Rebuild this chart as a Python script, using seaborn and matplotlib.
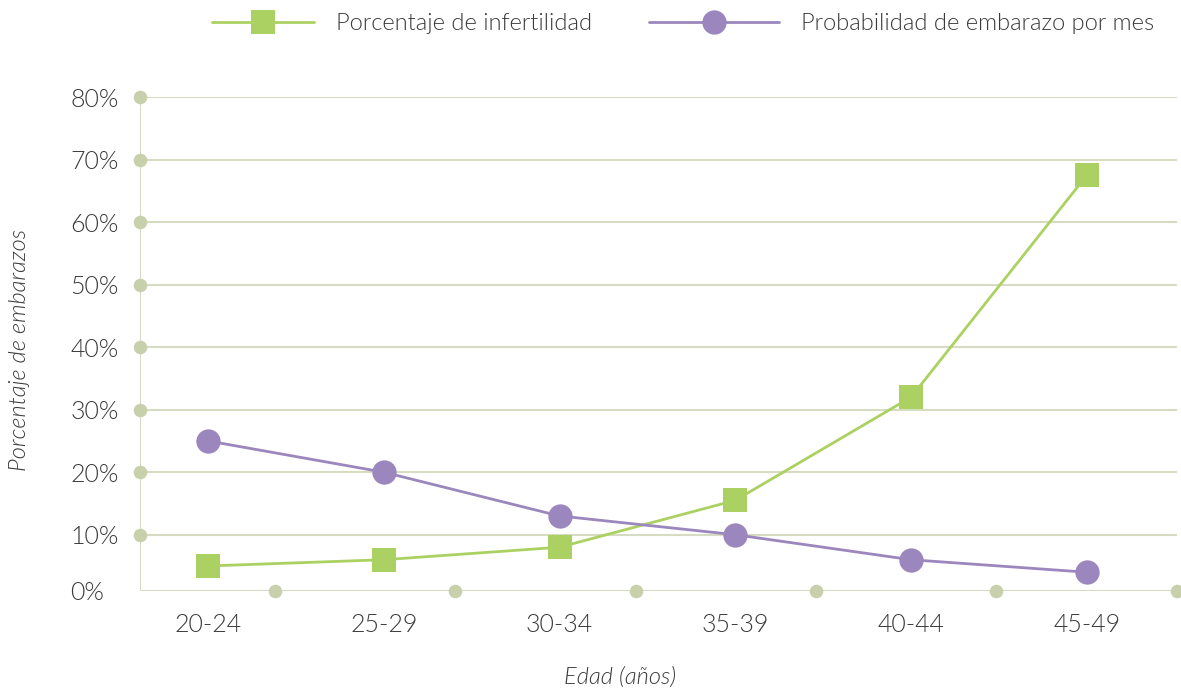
import numpy as np
import pandas as pd
import matplotlib
matplotlib.use("Agg")
import matplotlib.pyplot as plt
import seaborn as sns
from matplotlib.lines import Line2D

# data
edades = ["20-24", "25-29", "30-34", "35-39", "40-44", "45-49"]
infertilidad = [5, 6, 8, 15.5, 32, 67.5]
prob_embarazo = [25, 20, 13, 10, 6, 4]
yticks_pct = [0, 10, 20, 30, 40, 50, 60, 70, 80]

verde = "#acd163"
morado = "#9b87bd"
grid_col = "#d6dcc2"
dot_col = "#c7cfab"
txt_col = "#3a3a3a"
peso = 300

sns.set_theme(style="white")
plt.rcParams["font.family"] = ["Lato", "DejaVu Sans"]

df = pd.DataFrame({"pos": np.arange(len(edades)),
                   "infertilidad": infertilidad,
                   "prob": prob_embarazo})

W, H = 1181, 688
fig = plt.figure(figsize=(W / 100, H / 100), dpi=100)
ax = fig.add_axes([0.1185, 0.141, 0.878, 0.718])

# bottom of the axis sits a bit above 0 in the reference
y0 = 1.0
for v in yticks_pct[1:]:
    ax.axhline(v, color=grid_col, lw=1.5, zorder=1)
ax.axhline(y0, color=grid_col, lw=1.5, zorder=1)
ax.axvline(-0.387, color=grid_col, lw=1.5, zorder=1)

ax.scatter([-0.387] * 8, yticks_pct[1:], s=95, color=dot_col, zorder=2, clip_on=False, lw=0)
ax.scatter(np.linspace(0.38, 5.512, 6), [y0] * 6, s=95, color=dot_col, zorder=2, clip_on=False, lw=0)

sns.lineplot(data=df, x="pos", y="infertilidad", ax=ax, color=verde, lw=2,
             marker="s", markersize=17.5, markeredgewidth=0, zorder=4)
sns.lineplot(data=df, x="pos", y="prob", ax=ax, color=morado, lw=2,
             marker="o", markersize=17.5, markeredgewidth=0, zorder=4)

ax.set_xlim(-0.387, 5.512)
ax.set_ylim(y0, 80)
ax.set_yticks([y0] + yticks_pct[1:])
ax.set_yticklabels([f"{v}%" for v in yticks_pct], fontsize=18, color=txt_col, fontweight=peso)
for t in ax.get_yticklabels():
    t.set_horizontalalignment("left")
ax.set_xticks(df["pos"])
ax.set_xticklabels(edades, fontsize=18, color=txt_col, fontweight=peso)
ax.tick_params(axis="y", length=0, pad=50)
ax.tick_params(axis="x", length=0, pad=16)
for s in ax.spines.values():
    s.set_visible(False)

ax.set_ylabel("")
ax.set_xlabel("")
fig.text(620 / W, 1 - 677 / H, "Edad (años)", fontsize=17, style="italic", color=txt_col,
         fontweight=peso, ha="center", va="center")
fig.text(20 / W, 1 - 350 / H, "Porcentaje de embarazos", rotation=90, fontsize=17, style="italic",
         color=txt_col, fontweight=peso, ha="center", va="center")

leg_kw = dict(frameon=False, borderpad=0, borderaxespad=0, handletextpad=0.95,
              prop={"family": "Lato", "weight": peso, "size": 17})
h1 = Line2D([], [], color=verde, lw=2, marker="s", markersize=17.5, markeredgewidth=0)
h2 = Line2D([], [], color=morado, lw=2, marker="o", markersize=17.5, markeredgewidth=0)
leg1 = fig.legend([h1], ["Porcentaje de infertilidad"], loc="center left",
                  bbox_to_anchor=(212 / W, 1 - 24 / H), handlelength=4.3, **leg_kw)
leg2 = fig.legend([h2], ["Probabilidad de embarazo por mes"], loc="center left",
                  bbox_to_anchor=(649 / W, 1 - 24 / H), handlelength=5.5, **leg_kw)
for lg in (leg1, leg2):
    for t in lg.get_texts():
        t.set_color(txt_col)

fig.savefig("out.png", dpi=100)
